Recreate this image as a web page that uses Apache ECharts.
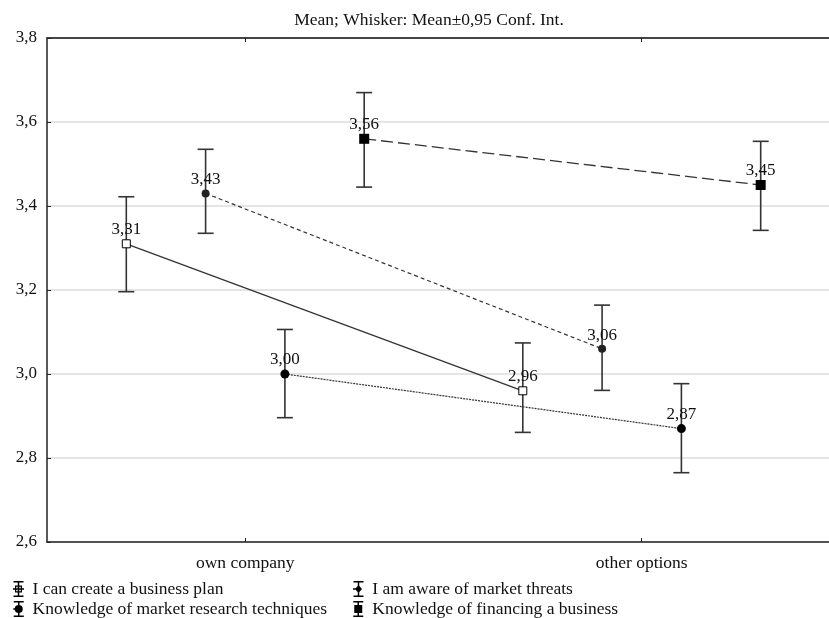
<!DOCTYPE html>
<html>
<head>
<meta charset="utf-8">
<script src="https://cdn.jsdelivr.net/npm/echarts@6/dist/echarts.min.js"></script>
<style>
  html, body { margin: 0; padding: 0; background: #fff; }
  #chart { width: 829px; height: 618px; }
</style>
</head>
<body>
<div id="chart"></div>
<script>
// Groups on the x axis
var categories = ['own company', 'other options'];

// Series names (legend order: left column then right column)
var nameBusinessPlan = 'I can create a business plan';
var nameThreats = 'I am aware of market threats';
var nameResearch = 'Knowledge of market research techniques';
var nameFinancing = 'Knowledge of financing a business';

// Means per group
var meanBusinessPlan = [3.31, 2.96];
var meanThreats = [3.43, 3.06];
var meanResearch = [3.00, 2.87];
var meanFinancing = [3.56, 3.45];

// 95% confidence interval bounds per group
var lowBusinessPlan = [3.196, 2.861];
var highBusinessPlan = [3.422, 3.074];
var lowThreats = [3.335, 2.961];
var highThreats = [3.535, 3.164];
var lowResearch = [2.896, 2.765];
var highResearch = [3.106, 2.977];
var lowFinancing = [3.445, 3.342];
var highFinancing = [3.670, 3.554];

// Y axis ticks
var yTicks = [2.6, 2.8, 3.0, 3.2, 3.4, 3.6, 3.8];

var FONT = '"Liberation Serif", "Times New Roman", serif';
var INK = '#222';

// Each group occupies one unit on the x scale; the plot is cut off
// on the right, so only part of the second unit's right half is visible.
var X_VISIBLE_MAX = 1.9723;
var groupCenters = categories.map(function (c, i) { return i + 0.5; });

function comma(v, d) { return Number(v).toFixed(d).replace('.', ','); }

// Legend icons: whisker with a line stub and the series marker
var capsAndStem = 'M1 0H21V3H1Z M1 29H21V32H1Z M9.5 0H12.5V32H9.5Z ';
var iconBusinessPlan = 'path://' + capsAndStem +
  'M0 14.5H22V17.5H0Z M4 9H18V23H4Z M6.5 11.5V20.5H15.5V11.5Z';
var iconThreats = 'path://' + capsAndStem +
  'M0 14.5H11V17.5H0Z M11 8L18 16L11 24L4 16Z';
var iconResearch = 'path://' + capsAndStem +
  'M0 14.5H11V17.5H0Z M11 8A8 8 0 1 1 10.99 8Z';
var iconFinancing = 'path://' + capsAndStem +
  'M3 8H19V24H3Z';

// Each series: name, values, horizontal offset within a group, marker and line style
var seriesDefs = [
  { name: nameBusinessPlan, mean: meanBusinessPlan, low: lowBusinessPlan, high: highBusinessPlan,
    offset: -0.3, symbol: 'rect', size: 8, fill: '#fff', dash: 'solid', lineW: 1.3 },
  { name: nameThreats, mean: meanThreats, low: lowThreats, high: highThreats,
    offset: -0.1, symbol: 'circle', size: 8, fill: INK, dash: [4, 3], lineW: 1.2 },
  { name: nameResearch, mean: meanResearch, low: lowResearch, high: highResearch,
    offset: 0.1, symbol: 'circle', size: 9, fill: '#000', dash: [2, 1], lineW: 1.2 },
  { name: nameFinancing, mean: meanFinancing, low: lowFinancing, high: highFinancing,
    offset: 0.3, symbol: 'rect', size: 10, fill: '#000', dash: [12, 5], lineW: 1.3 }
];

var series = [];

// Whiskers
seriesDefs.forEach(function (s) {
  series.push({
    type: 'custom',
    xAxisIndex: 0,
    yAxisIndex: 0,
    silent: true,
    z: 2,
    clip: false,
    data: groupCenters.map(function (c, i) { return [c + s.offset, s.low[i], s.high[i]]; }),
    renderItem: function (params, api) {
      var top = api.coord([api.value(0), api.value(2)]);
      var bot = api.coord([api.value(0), api.value(1)]);
      var half = 8;
      var st = { stroke: '#333', lineWidth: 1.6, fill: null };
      return {
        type: 'group',
        children: [
          { type: 'line', shape: { x1: top[0], y1: top[1], x2: bot[0], y2: bot[1] }, style: st },
          { type: 'line', shape: { x1: top[0] - half, y1: top[1], x2: top[0] + half, y2: top[1] }, style: st },
          { type: 'line', shape: { x1: bot[0] - half, y1: bot[1], x2: bot[0] + half, y2: bot[1] }, style: st }
        ]
      };
    }
  });
});

// Mean lines with markers and value labels
seriesDefs.forEach(function (s) {
  series.push({
    type: 'line',
    name: s.name,
    xAxisIndex: 0,
    yAxisIndex: 0,
    z: 3,
    data: groupCenters.map(function (c, i) { return [c + s.offset, s.mean[i]]; }),
    symbol: s.symbol,
    symbolSize: s.size,
    showAllSymbol: true,
    lineStyle: { color: '#333', width: s.lineW, type: s.dash },
    itemStyle: { color: s.fill, borderColor: '#000', borderWidth: s.fill === '#fff' ? 1 : 0 },
    label: {
      show: true,
      position: 'top',
      distance: 1,
      color: '#111',
      fontFamily: FONT,
      fontSize: 17,
      formatter: function (p) { return comma(p.value[1], 2); }
    },
    emphasis: { disabled: true },
    animation: false
  });
});

var legendCommon = {
  orient: 'vertical',
  top: 580,
  padding: 0,
  itemWidth: 12,
  itemHeight: 16,
  itemGap: 2,
  selectedMode: false,
  textStyle: { fontFamily: FONT, fontSize: 17.5, color: '#111', lineHeight: 16, padding: [0, 0, 0, 3] }
};

var option = {
  animation: false,
  backgroundColor: '#fff',
  title: {
    text: 'Mean; Whisker: Mean\u00b10,95 Conf. Int.',
    left: 424,
    top: 6,
    textAlign: 'center',
    textStyle: { fontFamily: FONT, fontSize: 17.5, fontWeight: 'normal', color: '#111' }
  },
  legend: [
    Object.assign({}, legendCommon, {
      left: 13,
      data: [
        { name: nameBusinessPlan, icon: iconBusinessPlan, itemStyle: { color: '#000', borderWidth: 0 } },
        { name: nameResearch, icon: iconResearch, itemStyle: { color: '#000', borderWidth: 0 } }
      ]
    }),
    Object.assign({}, legendCommon, {
      left: 353,
      data: [
        { name: nameThreats, icon: iconThreats, itemStyle: { color: '#000', borderWidth: 0 } },
        { name: nameFinancing, icon: iconFinancing, itemStyle: { color: '#000', borderWidth: 0 } }
      ]
    })
  ],
  grid: { left: 47, top: 38, right: 0, bottom: 76, containLabel: false },
  xAxis: [
    {
      type: 'value',
      position: 'bottom',
      min: 0,
      max: X_VISIBLE_MAX,
      axisLine: { show: true, lineStyle: { color: '#222', width: 1.5 } },
      axisTick: { show: true, inside: true, length: 4, customValues: groupCenters, lineStyle: { color: '#222' } },
      axisLabel: {
        fontFamily: FONT, fontSize: 17.5, color: '#111', margin: 12,
        customValues: groupCenters,
        formatter: function (v) { return categories[Math.floor(v)] || ''; }
      },
      splitLine: { show: false }
    },
    {
      type: 'value',
      position: 'top',
      min: 0,
      max: X_VISIBLE_MAX,
      axisLine: { show: true, lineStyle: { color: '#444', width: 1.8 } },
      axisTick: { show: true, inside: true, length: 4, customValues: groupCenters, lineStyle: { color: '#222' } },
      axisLabel: { show: false },
      splitLine: { show: false }
    }
  ],
  yAxis: [
    {
      type: 'value',
      min: yTicks[0],
      max: yTicks[yTicks.length - 1],
      interval: 0.2,
      axisLine: { show: true, lineStyle: { color: '#222', width: 1.5 } },
      axisTick: { show: true, inside: true, length: 4, lineStyle: { color: '#222' } },
      axisLabel: {
        fontFamily: FONT, fontSize: 17, color: '#111', margin: 10,
        formatter: function (v) { return comma(v, 1); }
      },
      splitLine: { show: true, lineStyle: { color: '#dcdcdc', width: 1.5 } }
    }
  ],
  series: series
};

var chart = echarts.init(document.getElementById('chart'), null, { renderer: 'canvas' });
chart.setOption(option);
</script>
</body>
</html>
